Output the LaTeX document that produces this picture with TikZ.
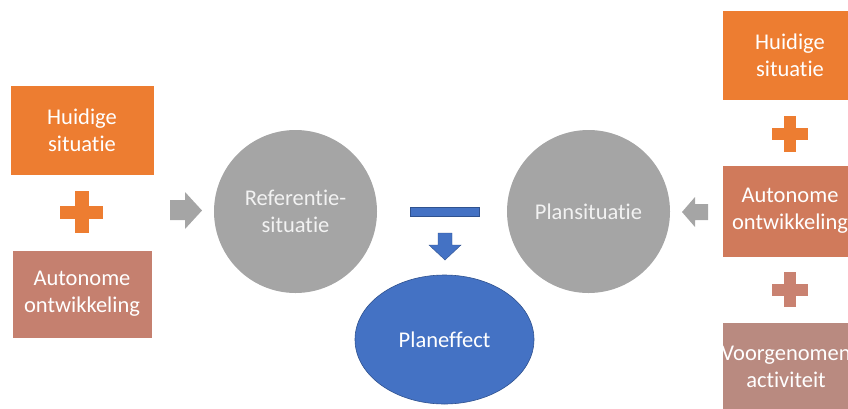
\documentclass[tikz,border=0pt]{standalone}
\usepackage{fontspec}
\setmainfont[Ligatures={NoCommon}]{Carlito}
\usetikzlibrary{shapes.geometric}
\definecolor{orng}{HTML}{ED7D31}
\definecolor{autoL}{HTML}{C5806F}
\definecolor{autoR}{HTML}{D07A5B}
\definecolor{plusB}{HTML}{C98271}
\definecolor{voorg}{HTML}{B98A80}
\definecolor{circ}{HTML}{A5A5A5}
\definecolor{circtext}{HTML}{F2F2F2}
\definecolor{blu}{HTML}{4472C4}
\definecolor{bluB}{HTML}{2F528F}
\begin{document}
\begin{tikzpicture}[x=1pt,y=-1pt,
  lbl/.style={text=white, align=center, font=\fontsize{22.5}{27}\selectfont},
  box/.style={draw=white, line width=0.4pt},
  circnode/.style={circle, fill=circ, minimum size=163pt, inner sep=0pt, text=circtext, align=center, font=\fontsize{22.5}{27}\selectfont}]
\useasboundingbox (0,0) rectangle (848,408);
\clip (0,0) rectangle (848,408);
% left column
\path[box, fill=orng] (10,85) rectangle (154,175);
\node[lbl] (hL) at (82,130) {Huidige\\situatie};
\fill[orng] (75,191) rectangle (89,233);
\fill[orng] (60,206) rectangle (103,219);
\path[box, fill=autoL] (12,250) rectangle (152,338);
\node[lbl] (aL) at (82,294) {Autonome\\ontwikkeling};
% left arrow
\fill[circ] (170,200) -- (185,200) -- (185,192) -- (202,210.5) -- (185,229) -- (185,220) -- (170,220) -- cycle;
% circles
\node[circnode] (ref) at (295.5,211.5) {Referentie-\\situatie};
\node[circnode] (plan) at (588.5,211.5) {Plansituatie};
% minus
\fill[blu, draw=bluB, line width=0.4pt] (410,207) rectangle (479,216);
% blue down arrow
\fill[blu, draw=bluB, line width=0.4pt] (438,233) -- (452,233) -- (452,245) -- (461,245) -- (445,260) -- (429,245) -- (438,245) -- cycle;
% planeffect
\node[ellipse, fill=blu, draw=bluB, line width=0.6pt, minimum width=179pt, minimum height=129pt, inner sep=0pt, text=white, font=\fontsize{22.5}{27}\selectfont] (pe) at (444.5,339.5) {Planeffect};
% right arrow
\fill[circ] (708,204) -- (695,204) -- (695,197) -- (682,212) -- (695,227) -- (695,220) -- (708,220) -- cycle;
% right column
\path[box, fill=orng] (722,10) rectangle (860,100);
\node[lbl] (hR) at (790,55) {Huidige\\situatie};
\fill[orng] (784,116) rectangle (796,152);
\fill[orng] (772,128) rectangle (808,140);
\path[box, fill=autoR] (722,165) rectangle (860,257);
\node[lbl] (aR) at (790,211) {Autonome\\ontwikkeling};
\fill[plusB] (784,272) rectangle (796,307);
\fill[plusB] (772,283.5) rectangle (808,295.5);
\path[box, fill=voorg] (722,322) rectangle (860,412);
\node[lbl] (vR) at (786,367) {Voorgenomen\\activiteit};
\end{tikzpicture}
\end{document}
